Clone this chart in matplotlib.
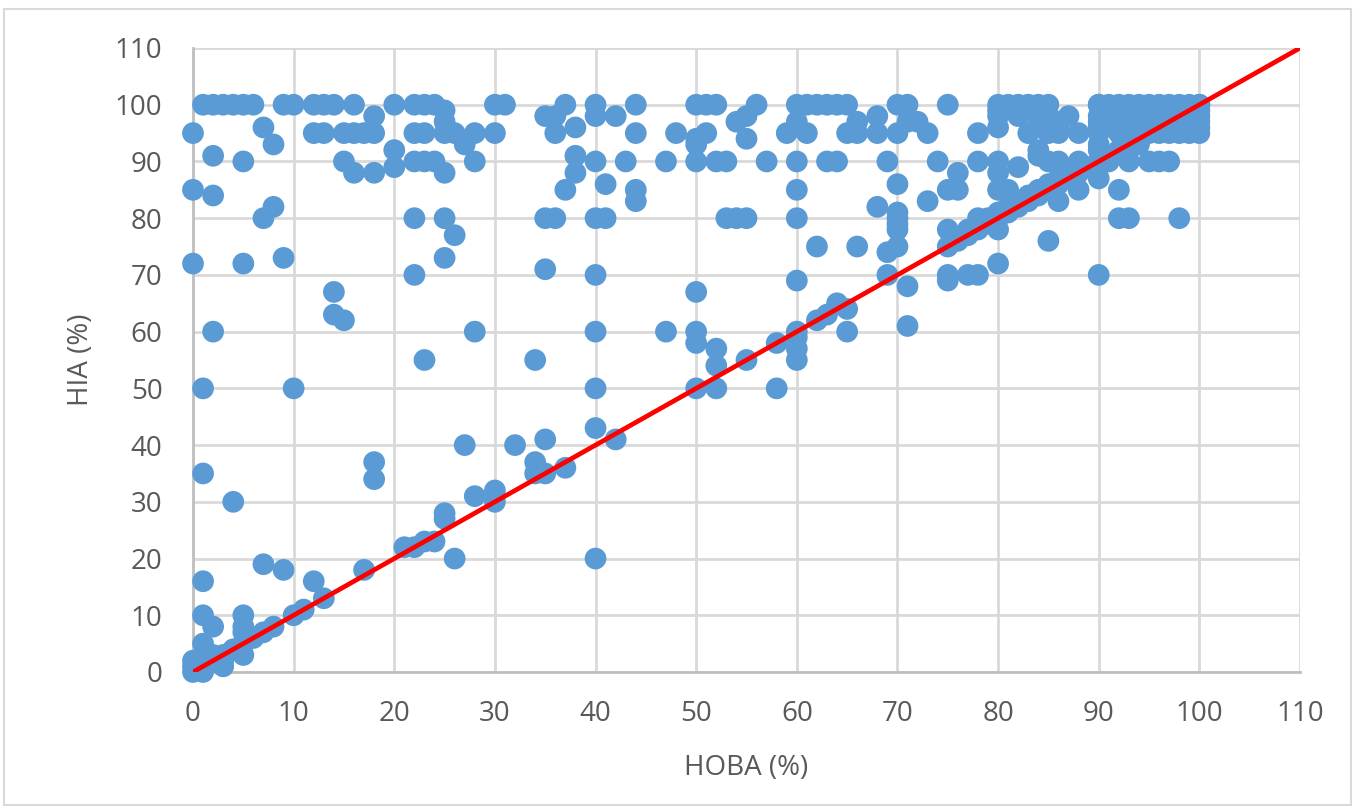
import matplotlib
matplotlib.use("Agg")
import matplotlib.pyplot as plt
from matplotlib.patches import Rectangle

plt.rcParams['font.family'] = ['Open Sans', 'DejaVu Sans']

# (HOBA %, HIA %) pairs
top_row_x = [1, 2, 3, 4, 5, 6, 9, 10, 12, 13, 14, 16, 20, 22, 23, 24, 30, 31, 37, 40, 44,
             50, 51, 52, 56, 60, 61, 62, 63, 64, 65, 70, 71, 75, 80, 81, 82, 83, 84, 85,
             90, 91, 92, 93, 94, 95, 96, 97, 98, 99, 100]

upper_pts = [
    (25, 99), (18, 98), (35, 98), (36, 98), (40, 98), (42, 98), (55, 98), (68, 98), (80, 98),
    (87, 98), (90, 98), (100, 98), (95, 98), (97, 98),
    (25, 97), (54, 97), (60, 97), (71, 97), (72, 97), (66, 97), (86, 97),
    (7, 96), (38, 96), (80, 96), (100, 96), (93, 96),
    (0, 95), (12, 95), (13, 95), (15, 95), (16, 95), (17, 95), (18, 95), (22, 95), (23, 95),
    (25, 95), (26, 95), (28, 95), (30, 95), (36, 95), (44, 95), (48, 95), (51, 95), (59, 95),
    (61, 95), (65, 95), (66, 95), (68, 95), (70, 95), (73, 95), (78, 95), (83, 95), (85, 95),
    (86, 95), (88, 95), (90, 95), (92, 95), (94, 95), (96, 95), (99, 95), (100, 95),
    (50, 94), (55, 94), (8, 93), (27, 93), (50, 93), (90, 93), (20, 92), (84, 92),
    (2, 91), (38, 91), (84, 91), (90, 92),
    (5, 90), (15, 90), (22, 90), (23, 90), (24, 90), (28, 90), (40, 90), (43, 90), (47, 90),
    (50, 90), (52, 90), (53, 90), (57, 90), (60, 90), (63, 90), (64, 90), (69, 90), (74, 90),
    (78, 90), (80, 90), (85, 90), (86, 90), (88, 90), (93, 90), (95, 90), (96, 90), (97, 90),
    (20, 89), (82, 89), (16, 88), (18, 88), (25, 88), (38, 88), (80, 88), (76, 88), (90, 87),
    (86, 86), (70, 86), (41, 86),
    (0, 85), (37, 85), (44, 85), (60, 85), (75, 85), (76, 85), (80, 85), (81, 85), (88, 85),
    (92, 85), (2, 84), (44, 83), (73, 83), (86, 83), (8, 82), (68, 82), (82, 82),
]

middle_pts = [
    (7, 80), (22, 80), (25, 80), (35, 80), (36, 80), (40, 80), (41, 80), (53, 80), (54, 80),
    (55, 80), (60, 80), (70, 80), (70, 81), (70, 79), (78, 80), (92, 80), (93, 80), (98, 80),
    (26, 77), (70, 78), (75, 78), (77, 77), (80, 78), (85, 76), (62, 75), (66, 75), (70, 75),
    (75, 75), (69, 74), (0, 72), (5, 72), (9, 73), (25, 73), (35, 71), (80, 72),
    (22, 70), (40, 70), (69, 70), (75, 70), (75, 69), (77, 70), (78, 70), (90, 70), (60, 69),
    (71, 68), (50, 67), (14, 67), (64, 65), (65, 64), (63, 63), (14, 63), (62, 62), (15, 62),
    (71, 61), (2, 60), (28, 60), (40, 60), (47, 60), (50, 60), (60, 60), (65, 60), (60, 59),
    (50, 58), (58, 58), (52, 57), (60, 57), (23, 55), (34, 55), (55, 55), (60, 55), (52, 54),
    (1, 50), (10, 50), (40, 50), (50, 50), (52, 50), (58, 50),
]

lower_pts = [
    (40, 43), (35, 41), (42, 41), (27, 40), (32, 40), (18, 37), (34, 37), (37, 36), (1, 35),
    (34, 35), (35, 35), (18, 34), (30, 32), (28, 31), (4, 30), (30, 30), (25, 28), (25, 27),
    (23, 23), (24, 23), (21, 22), (22, 22), (26, 20), (40, 20), (7, 19), (9, 18), (17, 18),
    (1, 16), (12, 16), (13, 13), (11, 11), (10, 10), (1, 10), (5, 10), (2, 8), (5, 8), (8, 8),
    (7, 7), (5, 7), (6, 6), (1, 5), (5, 5), (4, 4), (3, 3), (2, 3), (5, 3), (3, 2), (3, 1),
    (1, 2), (1, 1), (0, 1), (0, 0), (1, 0), (0, 2),
]

diag_pts = [
    (76, 76), (77, 78), (78, 78), (79, 79), (79, 80), (80, 80), (80, 81), (81, 81), (81, 82),
    (82, 83), (83, 83), (83, 84), (84, 84), (84, 85), (85, 85), (85, 86), (86, 87), (87, 87),
    (87, 88), (88, 88), (89, 89), (90, 90), (90, 89), (91, 91), (91, 90), (92, 92), (93, 93),
    (93, 92), (94, 94), (94, 93), (95, 95), (95, 96), (96, 96), (97, 97), (97, 96), (98, 98),
    (98, 97), (99, 99), (99, 97), (100, 100), (100, 99), (100, 97),
    (91, 97), (92, 98), (93, 99), (94, 97), (95, 97), (96, 98), (97, 99), (98, 96), (99, 98),
    (91, 99), (92, 96), (94, 99), (96, 99), (97, 95), (98, 95), (90, 100), (90, 97), (90, 96),
    (80, 99), (82, 98), (83, 99), (84, 97), (85, 98), (86, 96), (84, 96),
]

hoba = top_row_x + [p[0] for p in upper_pts + middle_pts + lower_pts + diag_pts]
hia = [100] * len(top_row_x) + [p[1] for p in upper_pts + middle_pts + lower_pts + diag_pts]

line_x = [0, 110]
line_y = [0, 110]
ticks = list(range(0, 111, 10))

fig = plt.figure(figsize=(13.55, 8.08), dpi=100)
ax = fig.add_axes([193 / 1355, 1 - 672 / 808, (1300 - 193) / 1355, (672 - 48) / 808])

ax.scatter(hoba, hia, s=245, color='#5B9BD5', edgecolors='none', zorder=3, clip_on=False)
ax.plot(line_x, line_y, color='#FF0000', linewidth=3.4, zorder=4, solid_capstyle='round')

ax.set_xlim(0, 110)
ax.set_ylim(0, 110)
ax.set_xticks(ticks)
ax.set_yticks(ticks)
ax.grid(True, color='#d9d9d9', linewidth=2.0, zorder=0)
ax.set_axisbelow(True)
for s in ['top', 'right']:
    ax.spines[s].set_visible(False)
for s in ['left', 'bottom']:
    ax.spines[s].set_color('#bfbfbf')
    ax.spines[s].set_linewidth(2.0)
ax.tick_params(axis='both', length=0, labelsize=20, labelcolor='#595959')
ax.tick_params(axis='x', pad=20)
ax.tick_params(axis='y', pad=22)

ax.set_xlabel('HOBA (%)', fontsize=20, color='#595959', labelpad=19)
ax.set_ylabel('HIA (%)', fontsize=20, color='#595959', labelpad=14)

fig.patches.append(Rectangle((4 / 1355, 3 / 808), 1347 / 1355, 796 / 808, transform=fig.transFigure,
                             fill=False, edgecolor='#d9d9d9', linewidth=1.5))

fig.savefig('out.png', dpi=100)
